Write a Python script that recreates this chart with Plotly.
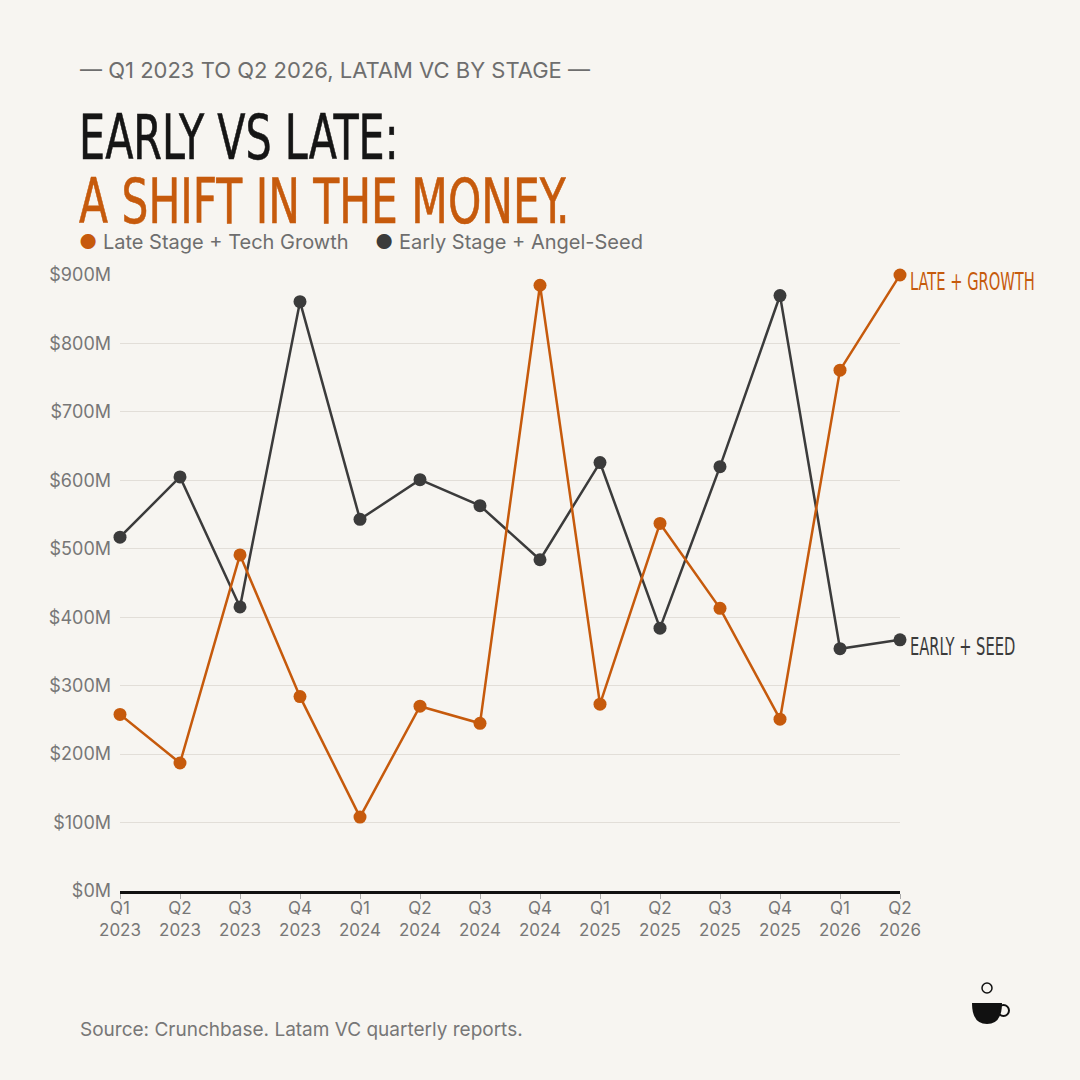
import plotly.graph_objects as go

quarters = ['Q1<br>2023', 'Q2<br>2023', 'Q3<br>2023', 'Q4<br>2023',
            'Q1<br>2024', 'Q2<br>2024', 'Q3<br>2024', 'Q4<br>2024',
            'Q1<br>2025', 'Q2<br>2025', 'Q3<br>2025', 'Q4<br>2025',
            'Q1<br>2026', 'Q2<br>2026']
# $M per quarter
late_growth = [258, 187, 491, 284, 108, 270, 245, 885, 273, 537, 413, 251, 761, 900]
early_seed = [517, 605, 415, 861, 543, 601, 563, 484, 626, 384, 620, 870, 354, 367]
y_ticks = [0, 100, 200, 300, 400, 500, 600, 700, 800, 900]
y_labels = ['$0M', '$100M', '$200M', '$300M', '$400M', '$500M', '$600M', '$700M', '$800M', '$900M']

ORANGE = '#C65A0C'
DARK = '#3B3B3B'
BG = '#F7F5F1'
GREY = '#6E6E6E'
COND_FONT = 'DejaVu Sans Condensed, sans-serif'
BODY_FONT = 'Inter, Roboto, sans-serif'

xs = list(range(len(quarters)))

fig = go.Figure()
fig.add_trace(go.Scatter(x=xs, y=early_seed, mode='lines+markers', name='Early Stage + Angel-Seed',
                         line=dict(color=DARK, width=2.5), marker=dict(color=DARK, size=13),
                         cliponaxis=False))
fig.add_trace(go.Scatter(x=xs, y=late_growth, mode='lines+markers', name='Late Stage + Tech Growth',
                         line=dict(color=ORANGE, width=2.5), marker=dict(color=ORANGE, size=13),
                         cliponaxis=False))

fig.update_layout(
    width=1080, height=1080,
    paper_bgcolor=BG, plot_bgcolor=BG,
    margin=dict(l=120, r=180, t=275, b=189),
    showlegend=False,
    font=dict(family=BODY_FONT, color=GREY),
)
fig.update_xaxes(range=[0, 13], tickvals=xs, ticktext=quarters, showgrid=False, zeroline=False,
                 showline=True, linecolor='#111111', linewidth=2.5,
                 ticks='outside', ticklen=5, tickcolor='#AAAAAA', tickwidth=1, ticklabelstandoff=-5,
                 tickfont=dict(size=17, color='#777777', family=BODY_FONT))
fig.update_yaxes(range=[0, 900], tickvals=y_ticks, ticktext=y_labels, showgrid=True,
                 gridcolor='#E2DED8', gridwidth=1, zeroline=False, ticks='', ticklabelstandoff=8,
                 tickfont=dict(size=18, color='#777777', family=BODY_FONT))

def px_x(px):
    return (px - 120) / 780

def px_y(py):
    return (891 - py) / 616

notes = [
    dict(text='— Q1 2023 TO Q2 2026, LATAM VC BY STAGE —', x=px_x(78), y=px_y(70),
         font=dict(size=22, color=GREY, family=BODY_FONT)),
    dict(text='EARLY VS LATE:', x=px_x(77), y=px_y(137),
         font=dict(size=62, color='#151515', family=COND_FONT)),
    dict(text='A SHIFT IN THE MONEY.', x=px_x(77), y=px_y(201),
         font=dict(size=62, color=ORANGE, family=COND_FONT)),
    dict(text=f'<span style="color:{ORANGE}">●</span> Late Stage + Tech Growth', x=px_x(77), y=px_y(242),
         font=dict(size=20, color=GREY, family=BODY_FONT)),
    dict(text=f'<span style="color:{DARK}">●</span> Early Stage + Angel-Seed', x=px_x(373), y=px_y(242),
         font=dict(size=20, color=GREY, family=BODY_FONT)),
    dict(text='Source: Crunchbase. Latam VC quarterly reports.', x=px_x(78), y=px_y(1029),
         font=dict(size=19, color='#777777', family=BODY_FONT)),
]
for n in notes:
    fig.add_annotation(xref='paper', yref='paper', xanchor='left', yanchor='middle',
                       showarrow=False, **n)

fig.add_annotation(x=13, y=late_growth[-1], xref='x', yref='y', xanchor='left', yanchor='middle',
                   xshift=8, yshift=-7, showarrow=False, text='LATE + GROWTH',
                   font=dict(size=24, color=ORANGE, family=COND_FONT))
fig.add_annotation(x=13, y=early_seed[-1], xref='x', yref='y', xanchor='left', yanchor='middle',
                   xshift=8, yshift=-7, showarrow=False, text='EARLY + SEED',
                   font=dict(size=24, color=DARK, family=COND_FONT))

# little coffee cup logo, bottom right
fig.add_shape(type='path', xref='paper', yref='paper',
              path=f'M {px_x(972)},{px_y(1003)} L {px_x(1002)},{px_y(1003)} '
                   f'Q {px_x(1002)},{px_y(1024)} {px_x(987)},{px_y(1024)} '
                   f'Q {px_x(972)},{px_y(1024)} {px_x(972)},{px_y(1003)} Z',
              fillcolor='#111111', line=dict(width=0))
fig.add_shape(type='circle', xref='paper', yref='paper',
              x0=px_x(998), x1=px_x(1009), y0=px_y(1016), y1=px_y(1005),
              line=dict(color='#111111', width=2))
fig.add_shape(type='circle', xref='paper', yref='paper',
              x0=px_x(982), x1=px_x(992), y0=px_y(993), y1=px_y(983),
              line=dict(color='#111111', width=1.5))

# no page margin; squeeze the condensed headline texts to look like a tall display face
post = """
document.body.style.margin = '0';
var squeeze = {'EARLY VS LATE:': [0.74, 0.6], 'A SHIFT IN THE MONEY.': [0.76, 0.6],
               'LATE + GROWTH': [0.68, 0], 'EARLY + SEED': [0.68, 0]};
document.querySelectorAll('text.annotation-text').forEach(function (t) {
    var k = squeeze[t.textContent];
    if (k) {
        t.style.transformBox = 'fill-box';
        t.style.transformOrigin = 'left center';
        t.style.transform = 'scaleX(' + k[0] + ')';
        if (k[1] > 0) {
            t.style.stroke = t.style.fill;
            t.style.strokeWidth = k[1] + 'px';
        }
    }
});
"""
fig.write_html('out.html', post_script=post, config={'displayModeBar': False})
